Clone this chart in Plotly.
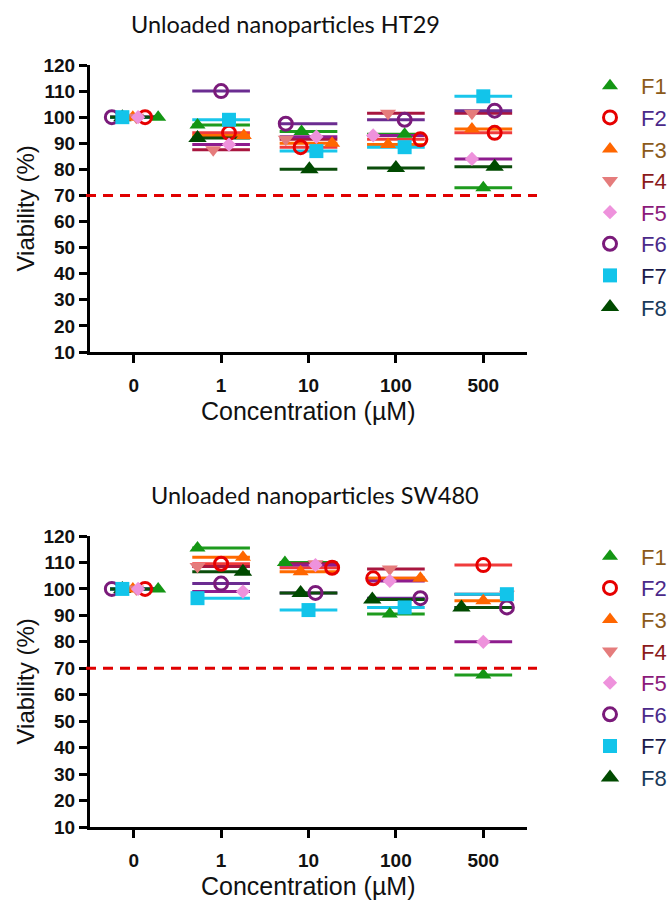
import plotly.graph_objects as go

# ---------------- data ----------------
categories = ["0", "1", "10", "100", "500"]
formulations = ["F1", "F2", "F3", "F4", "F5", "F6", "F7", "F8"]
threshold = 70

ht29_F1 = [100, 97, 94.5, 93.5, 73]
ht29_F2 = [100, 94, 88.5, 91.5, 94]
ht29_F3 = [100, 93, 90, 89.5, 95.5]
ht29_F4 = [100, 87.5, 91.5, 101.5, 101.5]
ht29_F5 = [100, 89.5, 92.5, 93, 84]
ht29_F6 = [100, 110, 97.5, 99, 102.5]
ht29_F7 = [100, 99, 87, 88.5, 108]
ht29_F8 = [100, 92, 80, 80.5, 81]

sw480_F1 = [100, 115.5, 110, 90.5, 67.5]
sw480_F2 = [100, 109.5, 108, 104, 109]
sw480_F3 = [100, 112, 106.5, 104, 95.5]
sw480_F4 = [100, 108.5, 109.5, 107.5, 98]
sw480_F5 = [100, 99, 109, 103, 80]
sw480_F6 = [100, 102, 98.5, 96.5, 93]
sw480_F7 = [100, 96.5, 92, 93, 98]
sw480_F8 = [100, 106.5, 98.5, 96, 93]

ht29 = [ht29_F1, ht29_F2, ht29_F3, ht29_F4, ht29_F5, ht29_F6, ht29_F7, ht29_F8]
sw480 = [sw480_F1, sw480_F2, sw480_F3, sw480_F4, sw480_F5, sw480_F6, sw480_F7, sw480_F8]

# ---------------- style ----------------
# horizontal scatter spread of each formulation's dot inside a group (category units)
ht29_spread = [
    [0.28, -0.27, -0.08, 0.10, 0.00],
    [0.13, 0.09, -0.09, 0.28, 0.13],
    [-0.01, 0.26, 0.27, -0.09, -0.13],
    [0.03, -0.09, -0.26, -0.09, -0.13],
    [0.05, 0.09, 0.09, -0.26, -0.13],
    [-0.25, 0.00, -0.26, 0.10, 0.13],
    [-0.13, 0.09, 0.09, 0.10, 0.00],
    [-0.13, -0.27, 0.01, 0.00, 0.13],
]
sw480_spread = [
    [0.28, -0.27, -0.27, -0.07, 0.00],
    [0.13, 0.00, 0.27, -0.26, 0.00],
    [-0.01, 0.25, -0.09, 0.28, 0.00],
    [0.03, -0.27, 0.08, -0.07, 0.27],
    [0.05, 0.25, 0.08, -0.07, 0.00],
    [-0.25, 0.00, 0.08, 0.28, 0.27],
    [-0.13, -0.27, 0.00, 0.10, 0.27],
    [-0.13, 0.25, -0.09, -0.27, -0.25],
]
line_halfwidth = [0.27, 0.33, 0.33, 0.33, 0.33]

marker_colors = ["#149614", "#E60000", "#FF6600", "#E57C7C", "#EE92DC", "#7A1A7A", "#12C4EA", "#004A00"]
line_colors = ["#1E9B1E", "#F03C3C", "#FF6A00", "#A8163F", "#8E1C8E", "#6B2C91", "#19C6EB", "#0B4D0B"]
symbols = ["triangle-up", "circle-open", "triangle-up", "triangle-down", "diamond", "circle-open", "square", "triangle-up"]
sizes = [14, 13, 14, 14, 11, 13, 14, 16]
label_colors = ["#8B5A1A", "#4B2A8A", "#8B5A1A", "#8B1A1A", "#8B1A7A", "#4B2A8A", "#1A1A4A", "#1A3A5A"]

AX_FONT = "Arial, 'Liberation Sans', sans-serif"
W, H = 670, 902

fig = go.Figure()

panels = [
    (ht29, ht29_spread, "x", "y", "legend", "ht"),
    (sw480, sw480_spread, "x2", "y2", "legend2", "sw"),
]

draw_order = [7, 0, 1, 2, 3, 4, 5, 6]

for values, spread, xa, ya, lg, tag in panels:
    # mean lines
    for i, f in enumerate(formulations):
        lx, ly = [], []
        for g, v in enumerate(values[i]):
            hw = line_halfwidth[g]
            lx += [g - hw, g + hw, None]
            ly += [v, v, None]
        fig.add_trace(go.Scatter(
            x=lx, y=ly, mode="lines", xaxis=xa, yaxis=ya,
            line=dict(color=line_colors[i], width=3),
            showlegend=False, legendgroup=tag + f, hoverinfo="skip"))
    # dots
    for i in draw_order:
        f = formulations[i]
        xs = [g + spread[i][g] for g in range(len(categories))]
        open_sym = symbols[i].endswith("open")
        fig.add_trace(go.Scatter(
            x=xs, y=values[i], mode="markers", xaxis=xa, yaxis=ya,
            name=f"<span style='color:{label_colors[i]}'>{f}</span>",
            legend=lg, legendgroup=tag + f, legendrank=i + 1,
            marker=dict(symbol=symbols[i], size=sizes[i], color=marker_colors[i],
                        line=dict(width=3 if open_sym else 0, color=marker_colors[i]))))

x_dom = [90 / W, 527 / W]
y1_dom = [1 - 352 / H, 1 - 65 / H]
y2_dom = [1 - 827 / H, 1 - 536 / H]

xaxis_common = dict(
    range=[-0.5, 4.5], tickmode="array", tickvals=list(range(len(categories))), ticktext=categories,
    showline=True, linewidth=3, linecolor="black", ticks="outside", ticklen=8, tickwidth=3,
    tickcolor="black", showgrid=False, zeroline=False, ticklabelstandoff=6, automargin=False,
    tickfont=dict(family=AX_FONT, size=19, color="#111", weight="bold"), domain=x_dom)
yaxis_common = dict(
    range=[10, 120], tickmode="array", tickvals=list(range(10, 121, 10)),
    showline=True, linewidth=3, linecolor="black", ticks="outside", ticklen=8, tickwidth=3,
    tickcolor="black", showgrid=False, zeroline=False, automargin=False,
    tickfont=dict(family=AX_FONT, size=19, color="#111", weight="bold"))

legend_common = dict(
    xanchor="left", yanchor="top", bgcolor="rgba(0,0,0,0)", traceorder="normal",
    font=dict(family=AX_FONT, size=22), tracegroupgap=15.3, itemwidth=52)

fig.update_layout(
    width=W, height=H, margin=dict(l=0, r=0, t=0, b=0, pad=0, autoexpand=False),
    paper_bgcolor="white", plot_bgcolor="white",
    xaxis=dict(**xaxis_common, anchor="y"),
    yaxis=dict(**yaxis_common, domain=y1_dom, anchor="x"),
    xaxis2=dict(**xaxis_common, anchor="y2"),
    yaxis2=dict(**yaxis_common, domain=y2_dom, anchor="x2"),
    legend=dict(**legend_common, x=579 / W, y=1 - 65 / H),
    legend2=dict(**legend_common, x=579 / W, y=1 - 535.5 / H),
    showlegend=True,
)

for yref, y_top_px, x_bot_px, title, tx in [
    ("y", 65, 352, "Unloaded nanoparticles HT29", 285),
    ("y2", 536, 827, "Unloaded nanoparticles SW480", 315),
]:
    fig.add_shape(type="line", xref="paper", yref=yref, x0=86 / W, x1=537 / W,
                  y0=threshold, y1=threshold,
                  line=dict(color="#E00000", width=3, dash="10px,7px"))
    fig.add_annotation(text=title, xref="paper", yref="paper", x=tx / W,
                       y=1 - (y_top_px - 41) / H, showarrow=False, xanchor="center", yanchor="middle",
                       font=dict(family="Lato, 'Open Sans', sans-serif", size=23.5, color="#111"))
    fig.add_annotation(text="Viability (%)", xref="paper", yref="paper", x=25 / W,
                       y=1 - ((y_top_px + x_bot_px) / 2) / H, showarrow=False, textangle=-90,
                       xanchor="center", yanchor="middle",
                       font=dict(family=AX_FONT, size=24, color="#111"))
    fig.add_annotation(text="Concentration (µM)", xref="paper", yref="paper", x=308 / W,
                       y=1 - (x_bot_px + 59) / H, showarrow=False, xanchor="center", yanchor="middle",
                       font=dict(family=AX_FONT, size=25, color="#111"))

fig.write_html("out.html")
